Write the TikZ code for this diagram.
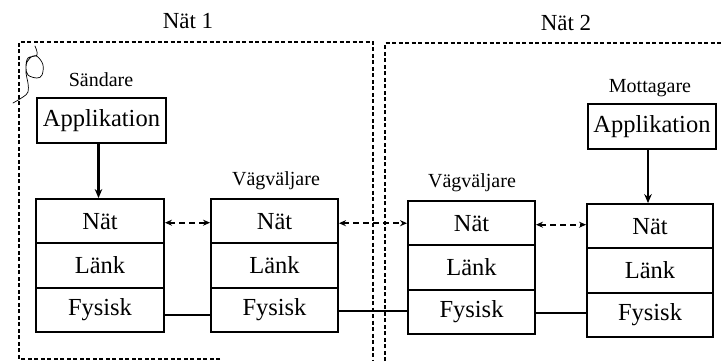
\documentclass[tikz,border=0pt]{standalone}
\usepackage{fontspec}
\setmainfont{Liberation Serif}
\usetikzlibrary{arrows.meta}
\begin{document}
\begin{tikzpicture}[x=1pt,y=-1pt,
  layer/.style={draw, line width=1.9pt, minimum height=44.3pt, inner sep=0pt,
    font=\fontsize{24.5}{26}\selectfont},
  appbox/.style={draw, line width=1.9pt, minimum height=45pt, inner sep=0pt,
    font=\fontsize{24.5}{26}\selectfont},
  role/.style={font=\fontsize{20}{22}\selectfont, inner sep=0pt},
  nettitle/.style={font=\fontsize{23}{25}\selectfont, inner sep=0pt},
  netedge/.style={line width=1.3pt, dash pattern=on 4pt off 2.5pt},
  peer/.style={line width=1.9pt, dash pattern=on 6pt off 4pt,
    {Stealth[length=7pt,width=6pt]}-{Stealth[length=7pt,width=6pt]}},
  down/.style={line width=2.4pt, -{Stealth[length=9pt,width=7.5pt]}},
  wire/.style={line width=1.9pt}]
\useasboundingbox (0,0) rectangle (722,361);

% network boundaries
\draw[netedge] (220,359) -- (19,359) -- (19,42) -- (373,42) -- (373,361);
\draw[netedge] (385,361) -- (385,43) -- (722,43);
\node[nettitle] (t1) at (188,21) {Nät 1};
\node[nettitle] (t2) at (566,23) {Nät 2};

% pen scribble in the upper left corner
\draw[line width=0.7pt, line cap=round] plot[smooth, tension=0.6] coordinates
  {(35,46) (37,55) (28,58) (26,67) (28,75) (37,78) (42,75) (43,65) (38,57)
   (33,56) (27,62) (26,73) (28,83) (28,92) (23,97) (13,103)};

% sender
\node[role] (snd) at (101,80) {Sändare};
\node[appbox, minimum width=129pt] (app1) at (101.5,120.5) {Applikation};
\node[layer, minimum width=128pt] (n1) at (100,221.2) {Nät};
\node[layer, minimum width=128pt] (l1) at (100,265.5) {Länk};
\node[layer, minimum width=128pt] (f1) at (100,309.8) {Fysisk};

% first router
\node[role] (r1) at (276,181) {Vägväljare};
\node[layer, minimum width=127pt] (n2) at (274.5,221.2) {Nät};
\node[layer, minimum width=127pt] (l2) at (274.5,265.5) {Länk};
\node[layer, minimum width=127pt] (f2) at (274.5,309.8) {Fysisk};

% second router
\node[role] (r2) at (472,183) {Vägväljare};
\node[layer, minimum width=127pt] (n3) at (471.5,223.2) {Nät};
\node[layer, minimum width=127pt] (l3) at (471.5,267.5) {Länk};
\node[layer, minimum width=127pt] (f3) at (471.5,311.8) {Fysisk};

% receiver
\node[role] (rcv) at (650,88) {Mottagare};
\node[appbox, minimum width=128pt] (app2) at (652,126.5) {Applikation};
\node[layer, minimum width=126pt] (n4) at (650,226.2) {Nät};
\node[layer, minimum width=126pt] (l4) at (650,270.5) {Länk};
\node[layer, minimum width=126pt] (f4) at (650,314.8) {Fysisk};

% application down to network layer
\draw[down] ([xshift=-3pt]app1.south) -- ([xshift=-3pt]app1.south |- n1.north);
\draw[down] ([xshift=-4pt]app2.south) -- ([xshift=-4pt]app2.south |- n4.north);

% peer network layers
\draw[peer] ([yshift=-1.5pt]n1.east) -- ([yshift=-1.5pt]n1.east -| n2.west);
\draw[peer] ([yshift=-2pt]n2.east) -- ([yshift=-2pt]n2.east -| n3.west);
\draw[peer] ([yshift=-1.5pt]n3.east) -- ([yshift=-1.5pt]n3.east -| n4.west);

% physical links
\draw[wire] ([yshift=-5pt]f1.east) -- ([yshift=-5pt]f1.east -| f2.west);
\draw[wire] ([yshift=-1pt]f2.east) -- ([yshift=-1pt]f2.east -| f3.west);
\draw[wire] ([yshift=-1.5pt]f3.east) -- ([yshift=-1.5pt]f3.east -| f4.west);
\end{tikzpicture}
\end{document}
